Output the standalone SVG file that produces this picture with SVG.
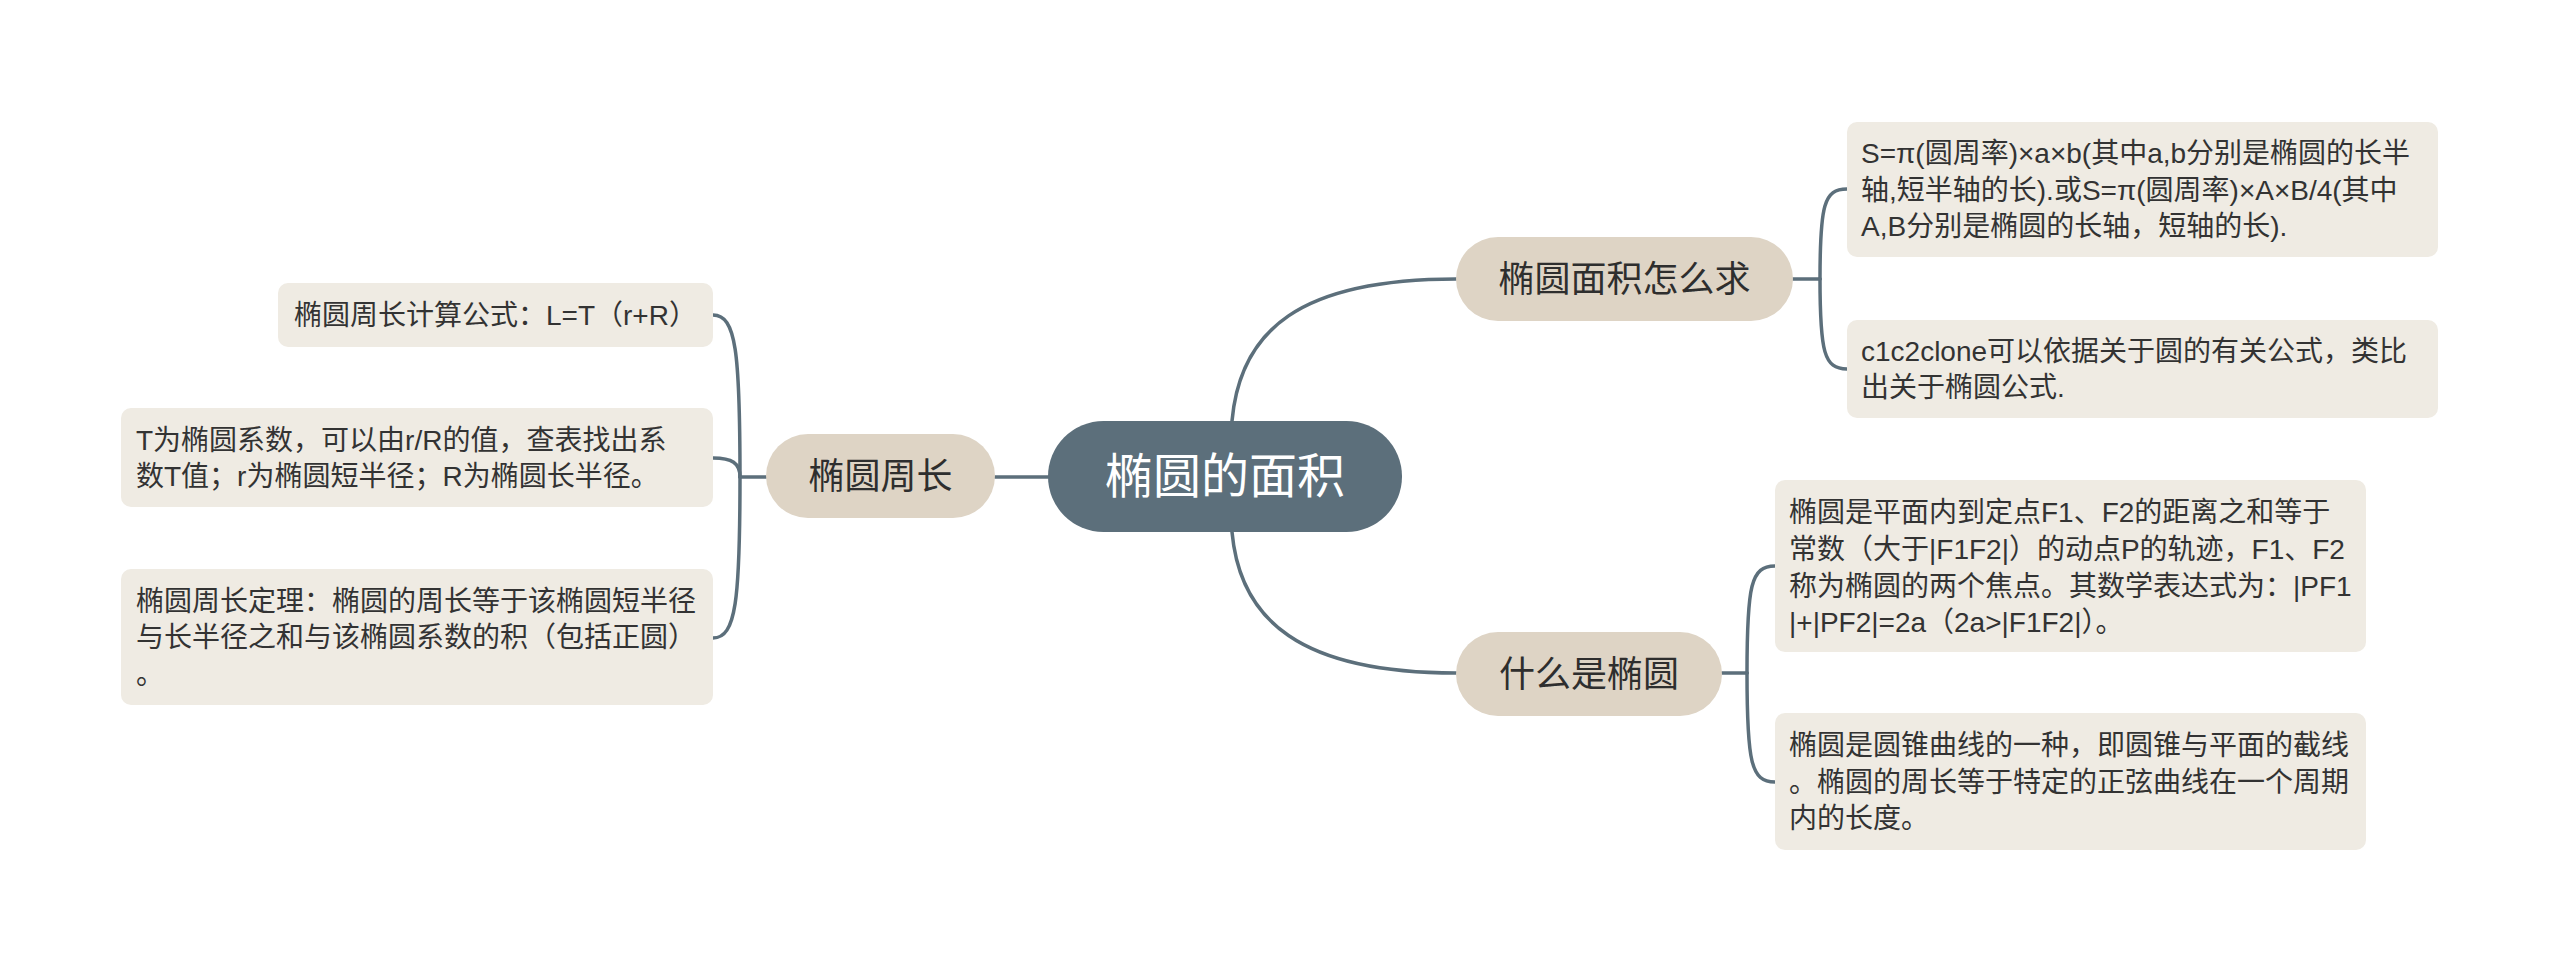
<svg xmlns="http://www.w3.org/2000/svg" width="2560" height="971" viewBox="0 0 2560 971">
<style>
.bg{fill:#ffffff}
.root{fill:#5c6f7b}
.main{fill:#ded4c5}
.sub{fill:#efebe3}
.link{fill:none;stroke:#5c6f7b;stroke-width:3.5;stroke-linecap:round}
text{font-family:"Liberation Sans","Noto Sans CJK SC",sans-serif;dominant-baseline:central}
.tr{fill:#ffffff;font-size:48px}
.tm{fill:#2e2e2e;font-size:36px}
.ts{fill:#333333;font-size:28px}
</style>
<rect class="bg" x="0" y="0" width="2560" height="971"/>
<g id="connectors">
<path class="link" d="M1232 421 C1240 330 1300 279 1456 279"/>
<path class="link" d="M1232 532 C1240 620 1300 673 1456 673"/>
<path class="link" d="M995 477 L1048 477"/>
<path class="link" d="M1793 279 L1820 279"/>
<path class="link" d="M1820 279 C1820 205 1824 189 1847 189"/>
<path class="link" d="M1820 279 C1820 352 1824 369 1847 369"/>
<path class="link" d="M1722 673 L1747 673"/>
<path class="link" d="M1747 673 C1747 585 1751 566 1775 566"/>
<path class="link" d="M1747 673 C1747 762 1751 782 1775 782"/>
<path class="link" d="M766 477 L740 477"/>
<path class="link" d="M740 477 C740 352 736 315 713 315"/>
<path class="link" d="M740 477 C740 463 732 458 713 458"/>
<path class="link" d="M740 477 C740 600 736 638 713 638"/>
</g>
<g id="root">
<rect class="root" x="1048" y="421" width="354" height="111" rx="55.5"/>
<text class="tr" x="1225" y="476" text-anchor="middle">椭圆的面积</text>
</g>
<g id="topic-area">
<rect class="main" x="1456" y="237" width="337" height="84" rx="42"/>
<text class="tm" x="1624.5" y="279" text-anchor="middle">椭圆面积怎么求</text>
</g>
<g id="topic-what">
<rect class="main" x="1456" y="632" width="266" height="84" rx="42"/>
<text class="tm" x="1589" y="674" text-anchor="middle">什么是椭圆</text>
</g>
<g id="topic-perimeter">
<rect class="main" x="766" y="434" width="229" height="84" rx="42"/>
<text class="tm" x="880.5" y="476" text-anchor="middle">椭圆周长</text>
</g>
<g id="area-1">
<rect class="sub" x="1847" y="122" width="591" height="135" rx="10"/>
<text class="ts" x="1861"><tspan x="1861" y="153">S=π(圆周率)×a×b(其中a,b分别是椭圆的长半</tspan><tspan x="1861" y="190">轴,短半轴的长).或S=π(圆周率)×A×B/4(其中</tspan><tspan x="1861" y="226">A,B分别是椭圆的长轴，短轴的长).</tspan></text>
</g>
<g id="area-2">
<rect class="sub" x="1847" y="320" width="591" height="98" rx="10"/>
<text class="ts" x="1861"><tspan x="1861" y="351">c1c2clone可以依据关于圆的有关公式，类比</tspan><tspan x="1861" y="387">出关于椭圆公式.</tspan></text>
</g>
<g id="what-1">
<rect class="sub" x="1775" y="480" width="591" height="172" rx="10"/>
<text class="ts" x="1789"><tspan x="1789" y="512">椭圆是平面内到定点F1、F2的距离之和等于</tspan><tspan x="1789" y="549">常数（大于|F1F2|）的动点P的轨迹，F1、F2</tspan><tspan x="1789" y="586">称为椭圆的两个焦点。其数学表达式为：|PF1</tspan><tspan x="1789" y="622">|+|PF2|=2a（2a&gt;|F1F2|）。</tspan></text>
</g>
<g id="what-2">
<rect class="sub" x="1775" y="713" width="591" height="137" rx="10"/>
<text class="ts" x="1789"><tspan x="1789" y="745">椭圆是圆锥曲线的一种，即圆锥与平面的截线</tspan><tspan x="1789" y="782">。椭圆的周长等于特定的正弦曲线在一个周期</tspan><tspan x="1789" y="818">内的长度。</tspan></text>
</g>
<g id="perimeter-1">
<rect class="sub" x="278" y="283" width="435" height="64" rx="10"/>
<text class="ts" x="294" y="315">椭圆周长计算公式：L=T（r+R）</text>
</g>
<g id="perimeter-2">
<rect class="sub" x="121" y="408" width="592" height="99" rx="10"/>
<text class="ts" x="136"><tspan x="136" y="440">T为椭圆系数，可以由r/R的值，查表找出系</tspan><tspan x="136" y="476">数T值；r为椭圆短半径；R为椭圆长半径。</tspan></text>
</g>
<g id="perimeter-3">
<rect class="sub" x="121" y="569" width="592" height="136" rx="10"/>
<text class="ts" x="136"><tspan x="136" y="601">椭圆周长定理：椭圆的周长等于该椭圆短半径</tspan><tspan x="136" y="637">与长半径之和与该椭圆系数的积（包括正圆）</tspan><tspan x="136" y="674">。</tspan></text>
</g>
</svg>
